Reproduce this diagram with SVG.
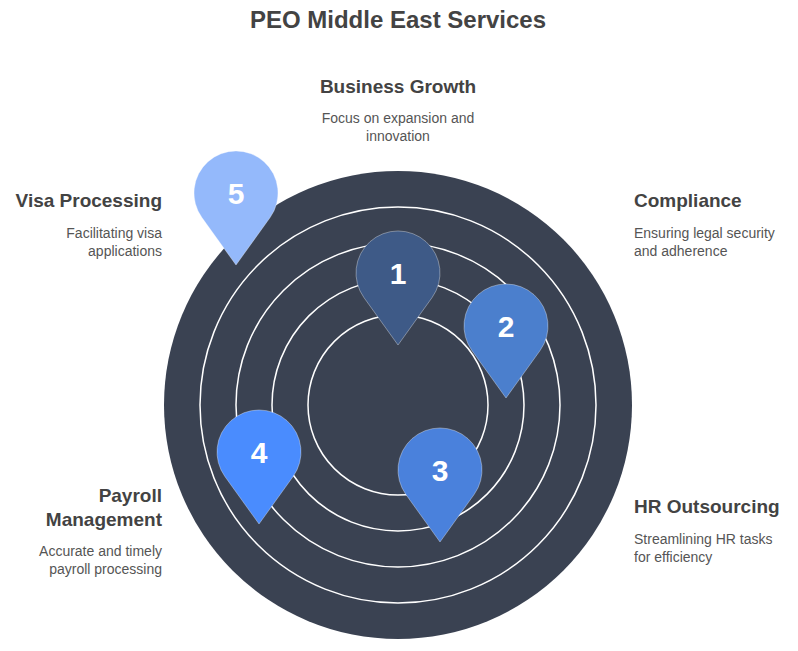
<svg xmlns="http://www.w3.org/2000/svg" width="798" height="651" viewBox="0 0 798 651">
<style>
.t{font-family:"Liberation Sans",Arial,sans-serif;font-weight:bold;font-size:19px;fill:#434343}
.d{font-family:"Liberation Sans",Arial,sans-serif;font-size:14px;fill:#555}
.n{font-family:"Liberation Sans",Arial,sans-serif;font-weight:bold;font-size:30px;fill:#fff;text-anchor:middle}
.ring{fill:none;stroke:#fff;stroke-width:1.5}
.pin{stroke:#ffffff;stroke-opacity:0.35;stroke-width:1}
</style>
<defs>
<path id="pin" d="M0,72 L-34.1,24.5 A42,42 0 1 1 34.1,24.5 Z"/>
</defs>
<rect width="798" height="651" fill="#fff"/>
<text x="398" y="28" class="t" style="font-size:24px" text-anchor="middle">PEO Middle East Services</text>
<g id="rings">
<circle cx="398" cy="405" r="234" fill="#3a4252"/>
<circle cx="398" cy="405" r="198" class="ring"/>
<circle cx="398" cy="405" r="162" class="ring"/>
<circle cx="398" cy="405" r="126" class="ring"/>
<circle cx="398" cy="405" r="90" class="ring"/>
</g>
<g id="connectors"></g>
<g id="pin5"><use href="#pin" x="236" y="193" fill="#94b9fb" class="pin"/><text x="236" y="204" class="n">5</text></g>
<g id="pin1"><use href="#pin" x="398" y="273" fill="#3e5a87" class="pin"/><text x="398" y="284" class="n">1</text></g>
<g id="pin2"><use href="#pin" x="506" y="326" fill="#4b7fcd" class="pin"/><text x="506" y="337" class="n">2</text></g>
<g id="pin3"><use href="#pin" x="440" y="470" fill="#4a81dc" class="pin"/><text x="440" y="481" class="n">3</text></g>
<g id="pin4"><use href="#pin" x="259" y="452" fill="#4a8cfe" class="pin"/><text x="259" y="463" class="n">4</text></g>
<g id="business" text-anchor="middle">
<text x="398" y="93" class="t">Business Growth</text>
<text x="398" y="123" class="d">Focus on expansion and</text>
<text x="398" y="141" class="d">innovation</text>
</g>
<g id="visa" text-anchor="end">
<text x="162" y="207" class="t">Visa Processing</text>
<text x="162" y="238" class="d">Facilitating visa</text>
<text x="162" y="256" class="d">applications</text>
</g>
<g id="compliance">
<text x="634" y="207" class="t">Compliance</text>
<text x="634" y="238" class="d">Ensuring legal security</text>
<text x="634" y="256" class="d">and adherence</text>
</g>
<g id="payroll" text-anchor="end">
<text x="162" y="502" class="t">Payroll</text>
<text x="162" y="526" class="t">Management</text>
<text x="162" y="556" class="d">Accurate and timely</text>
<text x="162" y="574" class="d">payroll processing</text>
</g>
<g id="hr">
<text x="634" y="513" class="t">HR Outsourcing</text>
<text x="634" y="544" class="d">Streamlining HR tasks</text>
<text x="634" y="562" class="d">for efficiency</text>
</g>
</svg>
